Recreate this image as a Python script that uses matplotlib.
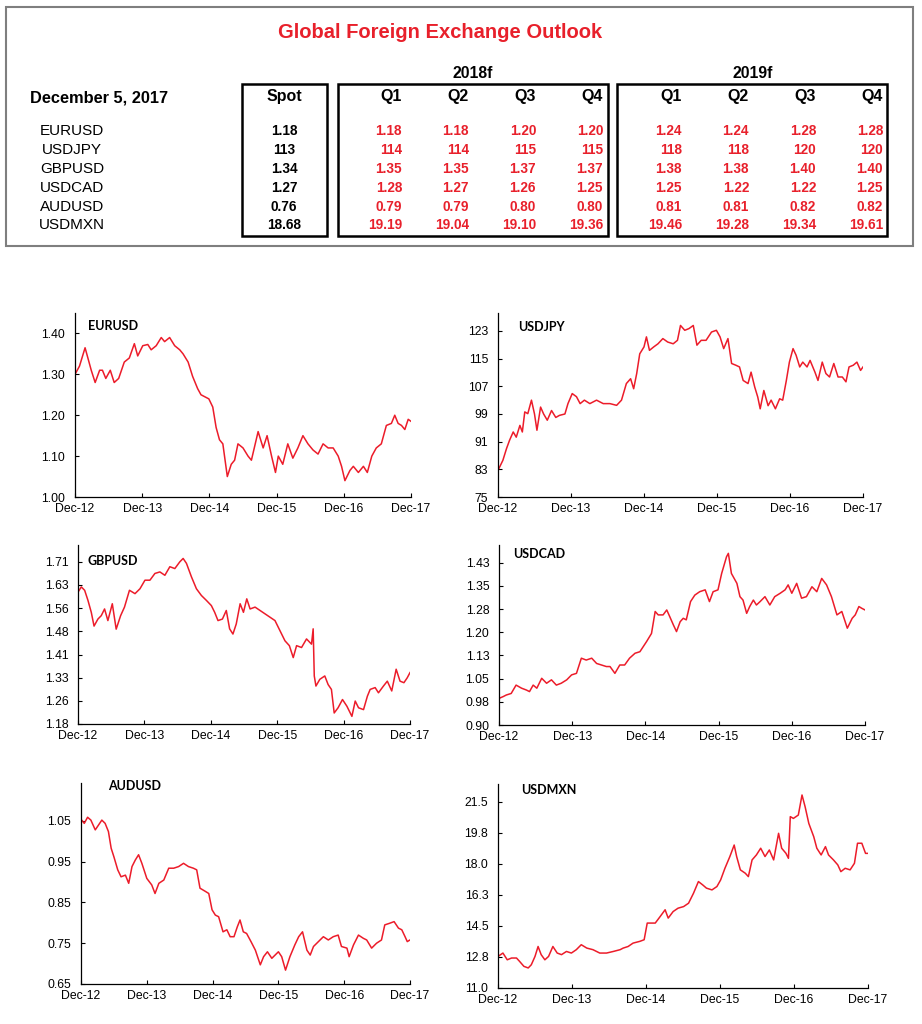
import matplotlib
matplotlib.use('Agg')
import matplotlib.pyplot as plt
from matplotlib.patches import Rectangle

# ---------------- data ----------------
pairs = ['EURUSD', 'USDJPY', 'GBPUSD', 'USDCAD', 'AUDUSD', 'USDMXN']
spot = ['1.18', '113', '1.34', '1.27', '0.76', '18.68']
fc_2018 = [['1.18', '1.18', '1.20', '1.20'],
           ['114', '114', '115', '115'],
           ['1.35', '1.35', '1.37', '1.37'],
           ['1.28', '1.27', '1.26', '1.25'],
           ['0.79', '0.79', '0.80', '0.80'],
           ['19.19', '19.04', '19.10', '19.36']]
fc_2019 = [['1.24', '1.24', '1.28', '1.28'],
           ['118', '118', '120', '120'],
           ['1.38', '1.38', '1.40', '1.40'],
           ['1.25', '1.22', '1.22', '1.25'],
           ['0.81', '0.81', '0.82', '0.82'],
           ['19.46', '19.28', '19.34', '19.61']]
quarters = ['Q1', 'Q2', 'Q3', 'Q4']

x_ticks = [0, 12, 24, 36, 48, 60]          # months since Dec-12
x_labels = ['Dec-12', 'Dec-13', 'Dec-14', 'Dec-15', 'Dec-16', 'Dec-17']

eur_m = [0, 0.8, 1.8, 2.9, 3.6, 4.4, 4.9, 5.5, 6.3, 7.0, 7.8, 8.8, 9.7, 10.6, 11.2, 12.1, 13.0, 13.6, 14.5, 15.4,
         16.0, 16.9, 17.8, 18.7, 19.3, 20.2, 21.0, 21.9, 22.5, 23.9, 24.6, 25.2, 25.8, 26.4, 27.2, 27.9, 28.5, 29.1,
         30.0, 30.9, 31.5, 32.7, 33.6, 34.3, 35.1, 35.8, 36.3, 37.1, 38.0, 38.9, 39.8, 40.7, 41.6, 42.5, 43.4, 44.3,
         45.2, 46.1, 47.0, 47.6, 48.2, 49.1, 49.7, 50.6, 51.5, 52.2, 53.0, 53.8, 54.7, 55.6, 56.5, 57.1, 57.7, 58.3,
         58.9, 59.5, 60.0]
eur_v = [1.30, 1.32, 1.365, 1.31, 1.28, 1.31, 1.31, 1.29, 1.31, 1.28, 1.29, 1.33, 1.34, 1.375, 1.345, 1.37, 1.373,
         1.36, 1.37, 1.39, 1.38, 1.39, 1.37, 1.36, 1.35, 1.33, 1.295, 1.265, 1.25, 1.24, 1.22, 1.17, 1.14, 1.13, 1.05,
         1.08, 1.09, 1.13, 1.12, 1.10, 1.09, 1.16, 1.12, 1.15, 1.10, 1.06, 1.10, 1.08, 1.13, 1.095, 1.12, 1.15, 1.13,
         1.115, 1.105, 1.13, 1.12, 1.12, 1.10, 1.075, 1.04, 1.065, 1.075, 1.06, 1.075, 1.06, 1.10, 1.12, 1.13, 1.175,
         1.18, 1.20, 1.18, 1.175, 1.165, 1.19, 1.185]

jpy_m = [0, 0.8, 1.4, 1.9, 2.5, 3.0, 3.6, 4.0, 4.4, 4.9, 5.5, 6.0, 6.4, 7.0, 7.5, 8.1, 8.8, 9.5, 10.1, 11.0, 11.5,
         12.2, 12.9, 13.5, 14.2, 15.1, 16.2, 17.3, 18.4, 19.5, 20.3, 21.1, 21.8, 22.3, 22.8, 23.3, 24.0, 24.4, 24.9,
         25.6, 26.3, 27.1, 27.9, 28.8, 29.5, 30.0, 30.7, 31.4, 32.1, 32.7, 33.4, 34.2, 35.1, 35.9, 36.5, 37.1, 37.8,
         38.4, 39.1, 39.7, 40.3, 41.1, 41.6, 42.2, 42.7, 43.1, 43.7, 44.4, 44.9, 45.6, 46.3, 46.8, 47.4, 47.9, 48.5,
         49.0, 49.6, 50.1, 50.8, 51.3, 52.1, 52.6, 53.3, 53.9, 54.5, 55.2, 55.9, 56.6, 57.2, 57.7, 58.4, 59.0, 59.6,
         60.0]
jpy_v = [82.7, 85.6, 89, 91.4, 93.8, 92.3, 95.7, 93.8, 99.6, 99.1, 103, 99, 94.3, 101, 99, 97.2, 100, 98, 98.6, 99,
         102, 104.9, 104, 102, 103, 102, 103, 102, 102, 101.5, 103, 107.8, 109.2, 106.3, 110.7, 116.4, 118.4, 121.3,
         117.4, 118.4, 119.3, 120.8, 119.8, 119.3, 120.3, 124.6, 123.2, 123.7, 124.6, 118.9, 120.3, 120.3, 122.7,
         123.2, 121.3, 117.9, 120.8, 113.6, 113.1, 112.6, 108.7, 107.8, 111.1, 106.8, 103.9, 100.5, 105.8, 101.4, 103,
         100.5, 103.4, 103, 108.7, 114, 117.9, 116, 112.6, 114, 112.6, 114.5, 111.1, 108.7, 114, 110.7, 109.7, 113.6,
         109.7, 109.7, 108.3, 112.6, 113.1, 114, 111.6, 112.6]

gbp_m = [0, 0.6, 1.2, 1.8, 2.4, 2.9, 3.6, 4.2, 4.8, 5.4, 6.2, 6.9, 7.7, 8.4, 9.3, 10.3, 11.2, 12.1, 13.0, 13.9, 14.8,
         15.7, 16.6, 17.5, 18.4, 19.0, 19.6, 20.5, 21.4, 22.3, 23.2, 24.1, 24.7, 25.3, 26.1, 26.8, 27.4, 28.0, 28.6,
         29.3, 29.9, 30.5, 31.1, 32.0, 32.9, 33.8, 34.7, 35.6, 36.5, 37.4, 38.2, 38.9, 39.5, 40.4, 41.3, 42.2, 42.5,
         42.7, 43.0, 43.7, 44.6, 45.2, 45.8, 46.3, 47.0, 47.8, 48.6, 49.5, 50.1, 50.7, 51.6, 52.3, 52.8, 53.7, 54.3,
         55.2, 55.9, 56.7, 57.5, 58.2, 58.9, 59.5, 60.0]
gbp_v = [1.611, 1.628, 1.617, 1.584, 1.545, 1.50, 1.523, 1.534, 1.556, 1.518, 1.573, 1.49, 1.534, 1.562, 1.617, 1.606,
         1.622, 1.650, 1.650, 1.672, 1.677, 1.666, 1.694, 1.688, 1.71, 1.721, 1.705, 1.661, 1.622, 1.60, 1.584, 1.567,
         1.545, 1.518, 1.523, 1.551, 1.491, 1.474, 1.507, 1.573, 1.545, 1.589, 1.556, 1.562, 1.551, 1.54, 1.529,
         1.518, 1.485, 1.452, 1.436, 1.397, 1.436, 1.43, 1.458, 1.441, 1.491, 1.337, 1.304, 1.326, 1.337, 1.309,
         1.293, 1.216, 1.233, 1.26, 1.238, 1.205, 1.255, 1.233, 1.227, 1.271, 1.293, 1.299, 1.282, 1.304, 1.32, 1.288,
         1.359, 1.32, 1.315, 1.331, 1.348]

cad_m = [0, 0.7, 1.2, 2.0, 2.8, 3.7, 4.5, 5.0, 5.6, 6.2, 7.0, 7.8, 8.6, 9.4, 10.2, 11.1, 11.9, 12.7, 13.5, 14.3, 15.2,
         16.0, 16.8, 17.6, 18.2, 19.0, 19.8, 20.6, 21.4, 22.3, 23.1, 24.2, 25.0, 25.6, 26.1, 26.9, 27.5, 28.0, 28.6,
         29.1, 29.7, 30.2, 30.7, 31.4, 32.1, 32.9, 33.8, 34.5, 35.1, 35.9, 36.5, 37.3, 37.6, 38.1, 39.0, 39.5, 40.0,
         40.6, 41.1, 41.7, 42.2, 42.8, 43.6, 44.4, 45.2, 46.1, 46.9, 47.4, 48.0, 48.8, 49.6, 50.4, 51.3, 52.1, 52.9,
         53.7, 54.5, 55.4, 56.2, 57.1, 57.9, 58.4, 59.0, 59.5, 60.0]
cad_v = [0.986, 0.992, 0.997, 1.002, 1.029, 1.019, 1.013, 1.008, 1.029, 1.019, 1.051, 1.035, 1.046, 1.029, 1.035,
         1.046, 1.062, 1.067, 1.116, 1.11, 1.116, 1.099, 1.094, 1.089, 1.089, 1.067, 1.094, 1.094, 1.116, 1.132,
         1.137, 1.17, 1.196, 1.267, 1.256, 1.256, 1.272, 1.25, 1.223, 1.202, 1.234, 1.245, 1.24, 1.299, 1.32, 1.331,
         1.337, 1.299, 1.331, 1.337, 1.39, 1.444, 1.455, 1.39, 1.358, 1.315, 1.304, 1.261, 1.283, 1.304, 1.288,
         1.299, 1.315, 1.288, 1.315, 1.326, 1.337, 1.353, 1.326, 1.358, 1.31, 1.315, 1.347, 1.331, 1.374, 1.353,
         1.315, 1.256, 1.267, 1.213, 1.245, 1.256, 1.283, 1.277, 1.272]

aud_m = [0, 0.6, 1.2, 1.8, 2.6, 3.2, 3.8, 4.4, 5.0, 5.5, 6.0, 6.7, 7.3, 8.1, 8.7, 9.3, 9.9, 10.5, 11.1, 12.0, 12.9,
         13.5, 14.2, 15.1, 16.0, 16.9, 17.8, 18.7, 19.6, 20.5, 21.1, 21.7, 22.7, 23.3, 23.9, 24.5, 25.1, 25.9, 26.6,
         27.2, 27.9, 28.5, 29.0, 29.6, 30.2, 31.0, 31.8, 32.7, 33.3, 34.0, 34.8, 35.4, 36.0, 36.6, 37.3, 38.1, 39.0,
         39.7, 40.4, 41.2, 41.8, 42.4, 43.3, 44.2, 45.1, 46.0, 46.9, 47.5, 48.5, 48.9, 49.7, 50.6, 51.5, 52.1, 53.0,
         53.9, 54.8, 55.4, 56.3, 57.1, 57.9, 58.5, 59.1, 59.5, 60.0]
aud_v = [1.054, 1.044, 1.059, 1.052, 1.028, 1.04, 1.052, 1.044, 1.024, 0.983, 0.962, 0.93, 0.913, 0.917, 0.897, 0.938,
         0.954, 0.967, 0.946, 0.909, 0.893, 0.872, 0.897, 0.905, 0.934, 0.934, 0.938, 0.946, 0.938, 0.934, 0.93,
         0.885, 0.877, 0.872, 0.832, 0.819, 0.815, 0.778, 0.783, 0.766, 0.766, 0.79, 0.807, 0.778, 0.774, 0.754,
         0.733, 0.697, 0.717, 0.729, 0.713, 0.721, 0.729, 0.717, 0.684, 0.717, 0.746, 0.766, 0.778, 0.733, 0.721,
         0.742, 0.754, 0.766, 0.758, 0.766, 0.77, 0.742, 0.738, 0.717, 0.746, 0.77, 0.762, 0.758, 0.738, 0.75, 0.758,
         0.795, 0.799, 0.803, 0.787, 0.783, 0.766, 0.754, 0.758]

mxn_m = [0, 0.8, 1.5, 2.2, 3.0, 3.5, 4.2, 4.9, 5.4, 6.0, 6.5, 7.0, 7.6, 8.2, 8.9, 9.6, 10.3, 11.1, 11.9, 12.7, 13.5,
         14.4, 15.4, 16.5, 17.6, 18.7, 19.8, 20.3, 21.1, 21.9, 23.0, 23.7, 24.2, 24.9, 25.5, 26.3, 27.1, 27.6, 28.4,
         29.2, 30.1, 30.9, 31.7, 32.5, 33.2, 33.8, 34.7, 35.5, 36.1, 36.8, 37.6, 38.3, 38.7, 39.3, 40.1, 40.6, 41.2,
         41.9, 42.6, 43.3, 44.0, 44.7, 45.5, 46.0, 46.7, 47.1, 47.4, 47.9, 48.7, 49.3, 49.8, 50.4, 51.2, 51.7, 52.4,
         53.1, 53.6, 54.4, 55.1, 55.6, 56.3, 57.1, 57.8, 58.3, 59.0, 59.6, 60.0]
mxn_v = [12.78, 12.97, 12.59, 12.69, 12.69, 12.5, 12.22, 12.13, 12.31, 12.78, 13.34, 12.88, 12.59, 12.78, 13.34, 12.97,
         12.88, 13.06, 12.97, 13.16, 13.44, 13.25, 13.16, 12.97, 12.97, 13.06, 13.16, 13.25, 13.34, 13.53, 13.63,
         13.72, 14.66, 14.66, 14.66, 15.03, 15.41, 14.94, 15.31, 15.5, 15.59, 15.78, 16.34, 17.0, 16.81, 16.63, 16.53,
         16.72, 17.09, 17.75, 18.41, 19.06, 18.41, 17.66, 17.47, 17.28, 18.22, 18.5, 18.88, 18.41, 18.78, 18.22,
         19.72, 18.88, 18.59, 18.31, 20.66, 20.56, 20.75, 21.88, 21.22, 20.28, 19.53, 18.88, 18.5, 18.97, 18.5, 18.22,
         17.94, 17.56, 17.75, 17.66, 18.03, 19.16, 19.16, 18.59, 18.59]

eur_ticks = [1.00, 1.10, 1.20, 1.30, 1.40]
eur_tl = ['1.00', '1.10', '1.20', '1.30', '1.40']
jpy_ticks = [75, 83, 91, 99, 107, 115, 123]
jpy_tl = ['75', '83', '91', '99', '107', '115', '123']
gbp_ticks = [1.18, 1.2557, 1.3314, 1.4071, 1.4829, 1.5586, 1.6343, 1.71]
gbp_tl = ['1.18', '1.26', '1.33', '1.41', '1.48', '1.56', '1.63', '1.71']
cad_ticks = [0.90, 0.975, 1.05, 1.125, 1.20, 1.275, 1.35, 1.425]
cad_tl = ['0.90', '0.98', '1.05', '1.13', '1.20', '1.28', '1.35', '1.43']
aud_ticks = [0.65, 0.75, 0.85, 0.95, 1.05]
aud_tl = ['0.65', '0.75', '0.85', '0.95', '1.05']
mxn_ticks = [11.0, 12.75, 14.5, 16.25, 18.0, 19.75, 21.5]
mxn_tl = ['11.0', '12.8', '14.5', '16.3', '18.0', '19.8', '21.5']

# ---------------- figure ----------------
W, H = 922, 1024
RED = '#E8202B'
LINE_RED = '#EC1C2A'
FONT = 'Liberation Sans'
plt.rcParams['font.family'] = [FONT, 'DejaVu Sans']

fig = plt.figure(figsize=(W / 100, H / 100), dpi=100)
fig.patch.set_facecolor('white')

# overlay in pixel coordinates for the table
ov = fig.add_axes([0, 0, 1, 1], zorder=0)
ov.set_xlim(0, W)
ov.set_ylim(H, 0)
ov.axis('off')

ov.add_patch(Rectangle((6, 7), 907, 239, fill=False, ec='#7f7f7f', lw=1.5))
ov.add_patch(Rectangle((241.5, 84), 85.5, 152, fill=False, ec='black', lw=1.8))
ov.add_patch(Rectangle((337.5, 84), 270, 152, fill=False, ec='black', lw=1.8))
ov.add_patch(Rectangle((617, 84), 270, 152, fill=False, ec='black', lw=1.8))

ov.text(440, 33, 'Global Foreign Exchange Outlook', color=RED, fontsize=14.5,
        fontweight='bold', ha='center', va='center')
ov.text(30, 98, 'December 5, 2017', fontsize=11.8, fontweight='bold', ha='left', va='center')
ov.text(473, 74, '2018f', fontsize=11.3, fontweight='bold', ha='center', va='center')
ov.text(753, 74, '2019f', fontsize=11.3, fontweight='bold', ha='center', va='center')
ov.text(284, 97, 'Spot', fontsize=11.5, fontweight='bold', ha='center', va='center')

q_x18 = [402, 469, 536, 603]
q_x19 = [682, 749, 816, 883]
for q, xa, xb in zip(quarters, q_x18, q_x19):
    ov.text(xa, 97, q, fontsize=11.5, fontweight='bold', ha='right', va='center')
    ov.text(xb, 97, q, fontsize=11.5, fontweight='bold', ha='right', va='center')

row_y = [131, 150, 169, 188, 207, 225]
for i, y in enumerate(row_y):
    ov.text(72, y, pairs[i], fontsize=11, ha='center', va='center')
    ov.text(284, y, spot[i], fontsize=9.8, fontweight='bold', ha='center', va='center')
    for j in range(4):
        ov.text(q_x18[j], y, fc_2018[i][j], fontsize=9.8, fontweight='bold', color=RED,
                ha='right', va='center')
        ov.text(q_x19[j], y, fc_2019[i][j], fontsize=9.8, fontweight='bold', color=RED,
                ha='right', va='center')


def px_axes(l, r, t, b):
    return fig.add_axes([l / W, 1 - b / H, (r - l) / W, (b - t) / H], zorder=2)


def draw_chart(box, title, title_px, months, values, ylim, ticks, tl):
    l, r, t, b = box
    ax = px_axes(l, r, t, b)
    ax.patch.set_alpha(0)
    ax.plot(months, values, color=LINE_RED, lw=1.1)
    ax.set_xlim(0, 60)
    ax.set_ylim(*ylim)
    ax.set_xticks(x_ticks)
    ax.set_xticklabels(x_labels)
    ax.set_yticks(ticks)
    ax.set_yticklabels(tl)
    for s in ('top', 'right'):
        ax.spines[s].set_visible(False)
    for s in ('left', 'bottom'):
        ax.spines[s].set_linewidth(0.9)
        ax.spines[s].set_color('black')
    ax.tick_params(axis='both', direction='in', length=3, width=0.8, labelsize=8.8,
                   colors='black')
    ax.tick_params(axis='y', pad=7)
    ax.tick_params(axis='x', pad=4)
    tx, ty = title_px
    ax.text((tx - l) / (r - l), (b - ty) / (b - t), title, transform=ax.transAxes,
            fontsize=9, fontweight='bold', family=['Lato', 'DejaVu Sans'], ha='left', va='center')
    return ax


draw_chart((75, 411, 313, 497), 'EURUSD', (88, 326), eur_m, eur_v, (1.0, 1.45), eur_ticks, eur_tl)
draw_chart((498, 863, 313, 497), 'USDJPY', (518, 327), jpy_m, jpy_v, (75, 128.2), jpy_ticks, jpy_tl)
draw_chart((78, 410, 545, 724), 'GBPUSD', (87, 561), gbp_m, gbp_v, (1.18, 1.765), gbp_ticks, gbp_tl)
draw_chart((499, 865, 545, 725), 'USDCAD', (513, 554), cad_m, cad_v, (0.90, 1.482), cad_ticks, cad_tl)
draw_chart((81, 410, 783, 984), 'AUDUSD', (108, 786), aud_m, aud_v, (0.65, 1.143), aud_ticks, aud_tl)
draw_chart((498, 868, 784, 988), 'USDMXN', (521, 790), mxn_m, mxn_v, (11.0, 22.5), mxn_ticks, mxn_tl)

fig.savefig('out.png', dpi=100)
